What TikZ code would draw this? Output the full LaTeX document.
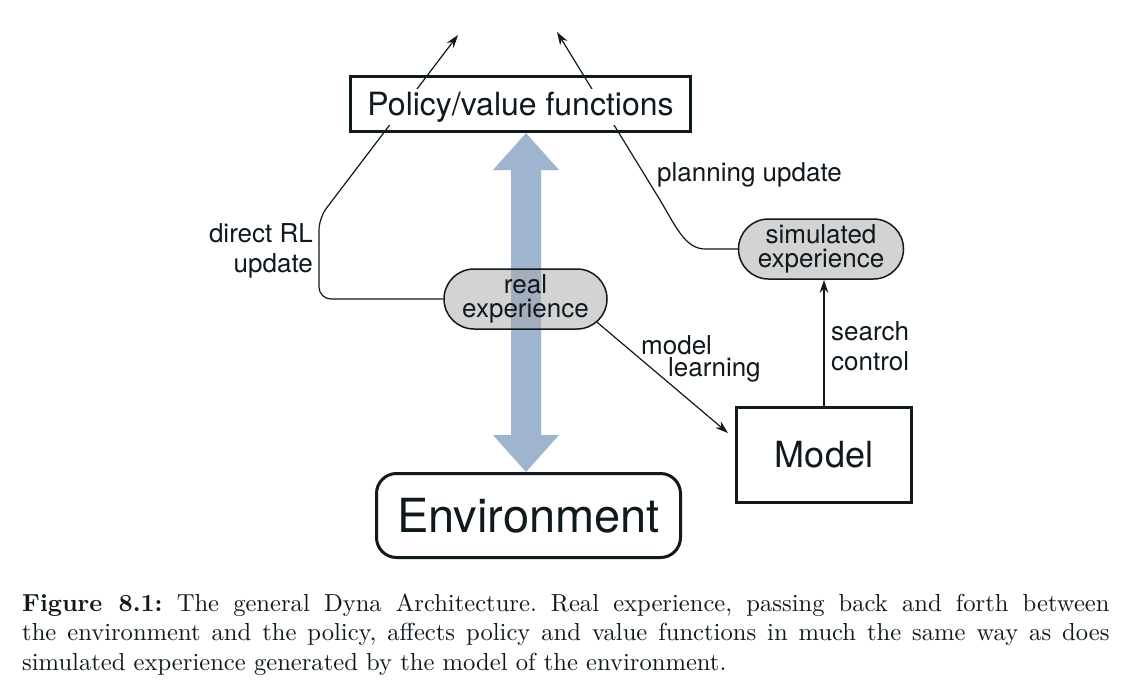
\documentclass[tikz,border=0pt]{standalone}
\usepackage{fontspec}
\setsansfont{TeX Gyre Heros}
\usetikzlibrary{arrows.meta,shapes.misc}
\definecolor{arrowblue}{RGB}{158,180,207}
\definecolor{txt}{RGB}{15,25,30}
\begin{document}
\begin{tikzpicture}[x=1pt,y=-1pt, font=\sffamily,
  tipstyle/.style={-{Stealth[length=13pt,width=8.5pt]}},
  conn/.style={line width=1.2pt, draw=txt, tipstyle},
  bigbox/.style={draw=txt, line width=3pt, inner sep=0, text=txt},
  bubble/.style={rounded rectangle, draw=txt, line width=1.5pt, fill=black!34, fill opacity=0.5, text opacity=1, draw opacity=1, minimum width=163pt, minimum height=60pt, align=center, inner sep=0, text=txt, font=\sffamily\fontsize{26}{24.5}\selectfont},
  lbl/.style={inner sep=0, font=\sffamily\fontsize{26}{30}\selectfont, text=txt}]
\fill[white] (0,0) rectangle (1124,691);
\useasboundingbox (0,0) rectangle (1124,691);
% big blue double arrow
\fill[arrowblue] (526,133) -- (559,170) -- (541,170) -- (541,435) -- (559,435) -- (526,472) -- (493,435) -- (511,435) -- (511,170) -- (493,170) -- cycle;
% frames
\node[bigbox, minimum width=340pt, minimum height=55pt] (pol) at (520.5,104) {};
\node[bigbox, rounded corners=20pt, minimum width=304pt, minimum height=84pt, font=\sffamily\fontsize{47}{50}\selectfont] (env) at (528.5,515.5) {Environment};
\node[bigbox, minimum width=175pt, minimum height=95pt, font=\sffamily\fontsize{36}{40}\selectfont] (model) at (824,455) {Model};
% bubbles
\node[bubble] (real) at (525.5,299) {real\\experience};
\node[bubble, minimum width=165pt] (sim) at (821,249) {simulated\\experience};
% connectors
\coordinate (tl) at (458,35);
\coordinate (tr) at (557,32);
\coordinate (mlend) at (728,433);
\draw[conn, rounded corners=12pt] (real.west) -- (319,299) -- (319,218) -- (tl);
\draw[conn] (sim.west) -- (705,249) .. controls (685,249) and (675,225) .. (660,200) -- (tr);
\draw[conn] (real.-18) -- (mlend);
\draw[conn] (model.north) -- (model.north |- sim.south);
% policy text over the lines
\node[fill=white, inner sep=3pt, font=\sffamily\fontsize{32}{38}\selectfont, text=txt, anchor=base] (polt) at (520.5,115) {Policy/value functions};
% labels
\node[lbl, align=right, anchor=east] (dl) at (313,251) {direct RL\\update};
\node[lbl, anchor=base west] (pl) at (657,181) {planning update};
\node[lbl, anchor=base west] (ml1) at (641,354) {model};
\node[lbl, anchor=base west] (ml2) at (668,376) {learning};
\node[lbl, align=left, anchor=west] (sc) at (831,346) {search\\control};
% caption
\node[anchor=base west, inner sep=0, text=txt] (cap) at (22,611) {\scalebox{2.46}{\parbox[t]{442pt}{\rmfamily\fontsize{10}{12}\selectfont\frenchspacing
\makebox[442pt][s]{\textbf{Figure 8.1:} The general Dyna Architecture. Real experience, passing back and forth between}\par
\makebox[442pt][s]{the environment and the policy, affects policy and value functions in much the same way as does}\par
simulated experience generated by the model of the environment.}}};
\end{tikzpicture}
\end{document}
